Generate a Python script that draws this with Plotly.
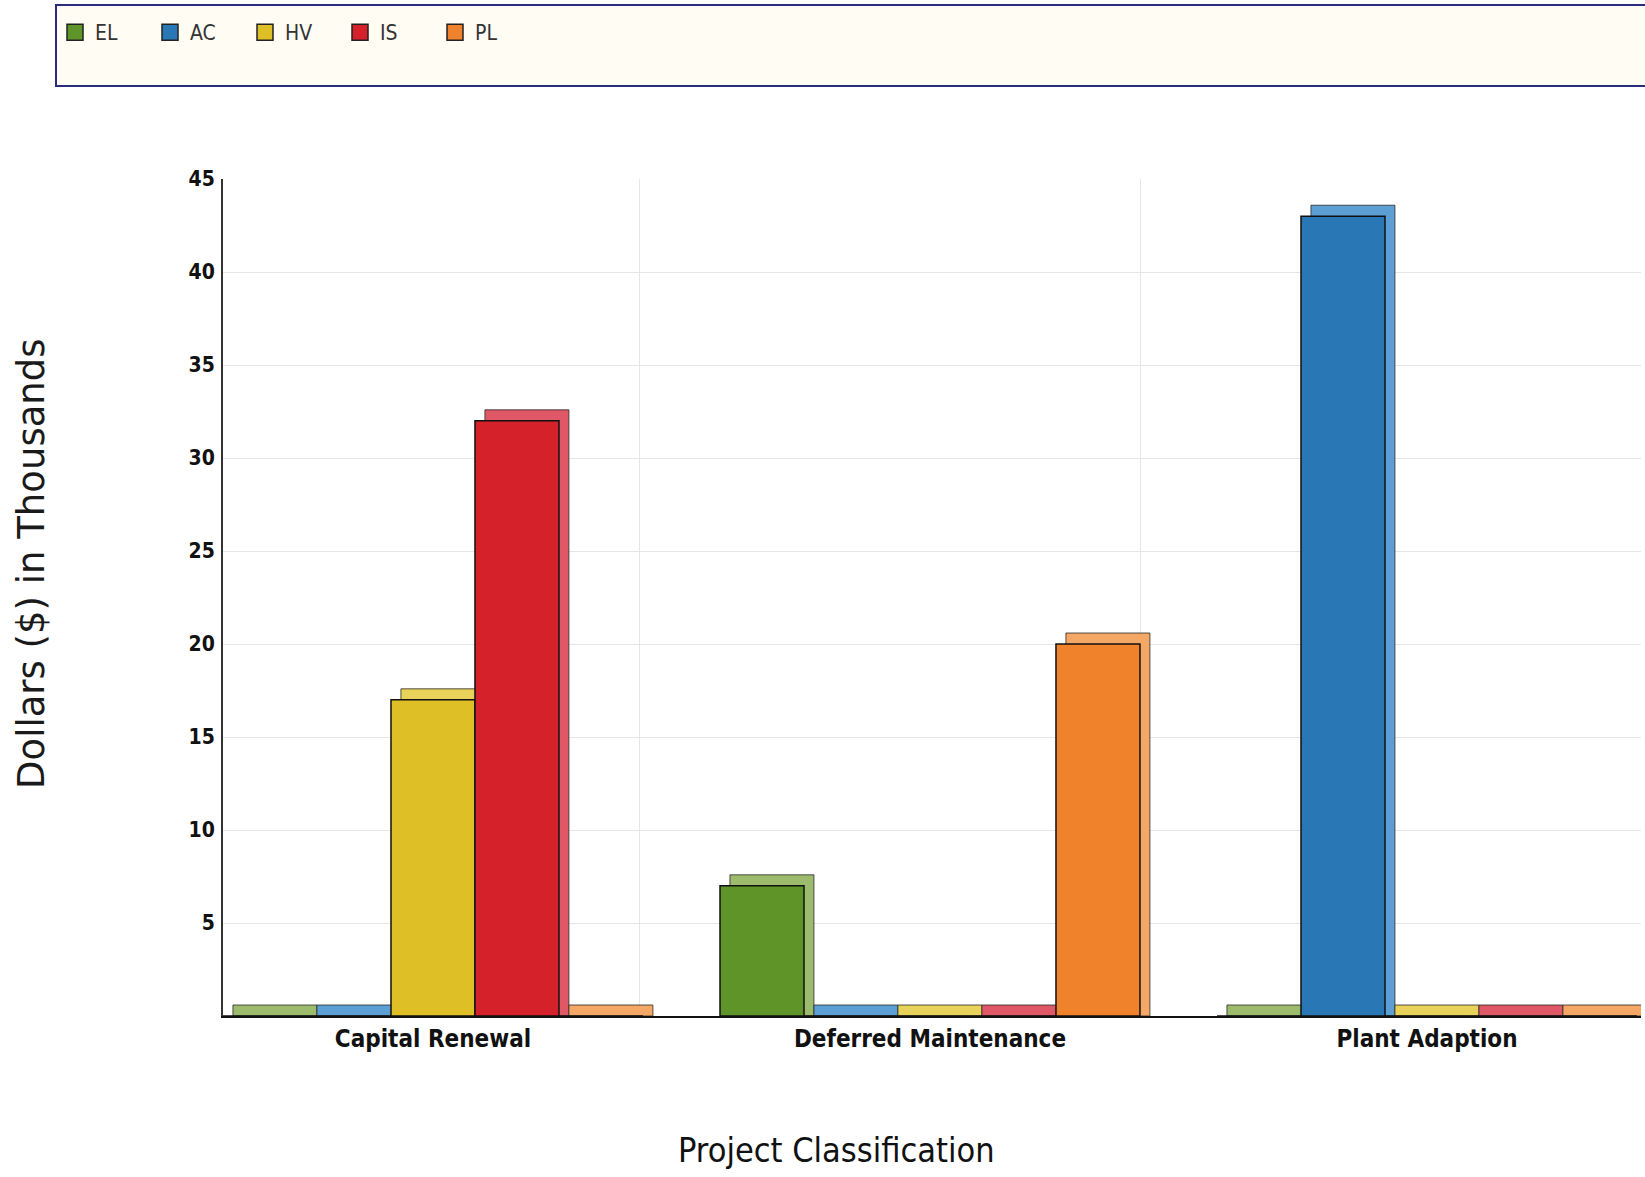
import plotly.graph_objects as go

# ---- data ----
categories = ["Capital Renewal", "Deferred Maintenance", "Plant Adaption"]
series_names = ["EL", "AC", "HV", "IS", "PL"]
EL = [0, 7, 0]
AC = [0, 0, 43]
HV = [17, 0, 0]
IS = [32, 0, 0]
PL = [0, 20, 0]
series_values = [EL, AC, HV, IS, PL]
y_ticks = [5, 10, 15, 20, 25, 30, 35, 40, 45]

# ---- style ----
front_colors = ["#5f9429", "#2a77b5", "#dfbf26", "#d5222a", "#f0822b"]
side_colors = ["#9cbb6c", "#5c9fd4", "#e9d25a", "#e05866", "#f5a766"]
BAR_W = 0.169        # bar width (x units)
DEPTH_X = 0.020      # 3D depth offset to the right (x units)
DEPTH_Y = 0.59       # 3D depth offset upwards (y units)

x_pos = list(range(len(categories)))
n = len(series_names)

fig = go.Figure()

# depth (back) faces first
for i, (name, vals) in enumerate(zip(series_names, series_values)):
    fig.add_trace(go.Bar(
        x=x_pos, y=[v + DEPTH_Y for v in vals],
        width=BAR_W, offset=(i - n / 2) * BAR_W + DEPTH_X,
        marker=dict(color=side_colors[i], line=dict(color="rgba(40,40,40,0.8)", width=1)),
        showlegend=False, legendgroup=name, hoverinfo="skip", name=name,
    ))

# front faces
for i, (name, vals) in enumerate(zip(series_names, series_values)):
    fig.add_trace(go.Bar(
        x=x_pos, y=vals,
        width=BAR_W, offset=(i - n / 2) * BAR_W,
        marker=dict(color=front_colors[i], line=dict(color="#111111", width=1.5)),
        name=name, legendgroup=name, showlegend=False,
    ))

# legend entries with larger square swatches
for i, name in enumerate(series_names):
    fig.add_trace(go.Scatter(
        x=[None], y=[None], mode="markers", name=name, legendgroup=name,
        marker=dict(symbol="square", size=17, color=front_colors[i],
                    line=dict(color="#222222", width=1.5)),
        showlegend=True,
    ))

W, H = 1645, 1177
L, R, T, B = 223, 4, 179, 161
PW, PH = W - L - R, H - T - B

fig.update_layout(
    width=W, height=H,
    margin=dict(l=L, r=R, t=T, b=B, pad=0),
    barmode="overlay",
    plot_bgcolor="white", paper_bgcolor="white",
    showlegend=True,
    legend=dict(
        orientation="h", xref="container", yref="container",
        x=55 / W, y=1 - 12 / H, xanchor="left", yanchor="top",
        bgcolor="rgba(0,0,0,0)", borderwidth=0,
        entrywidth=50, entrywidthmode="pixels", itemwidth=30,
        font=dict(family="DejaVu Sans Condensed, sans-serif", size=21, color="#333333"),
        traceorder="normal",
    ),
    xaxis=dict(
        range=[-0.4225, 2.4306],
        tickmode="array", tickvals=x_pos, ticktext=categories,
        tickfont=dict(family="DejaVu Sans Condensed, sans-serif", size=24, weight="bold", color="#111111"),
        showgrid=False, zeroline=False,
        showline=True, linecolor="#111111", linewidth=2,
        ticks="", ticklabelstandoff=0,
        minor=dict(tickmode="array", tickvals=[0.4165, 1.4245], showgrid=True, gridcolor="#e6e6e6", gridwidth=1, ticks=""),
        automargin=False,
    ),
    yaxis=dict(
        range=[0, 45],
        tickmode="array", tickvals=y_ticks,
        tickfont=dict(family="DejaVu Sans Condensed, sans-serif", size=21, weight="bold", color="#111111"),
        showgrid=True, gridcolor="#e6e6e6", gridwidth=1,
        zeroline=False,
        showline=True, linecolor="#333333", linewidth=2,
        ticks="", ticklabelstandoff=2,
        automargin=False,
    ),
    annotations=[
        dict(text="Project Classification", xref="paper", yref="paper",
             x=(836 - L) / PW, y=(H - B - 1150) / PH, xanchor="center", yanchor="middle",
             showarrow=False,
             font=dict(family="DejaVu Sans Condensed, sans-serif", size=34, color="#111111")),
        dict(text="Dollars ($) in Thousands", xref="paper", yref="paper",
             x=(31 - L) / PW, y=(H - B - 563) / PH, xanchor="center", yanchor="middle",
             textangle=-90, showarrow=False,
             font=dict(family="DejaVu Sans, sans-serif", size=37, color="#1a1a1a")),
    ],
    shapes=[
        dict(type="rect", xref="paper", yref="paper",
             x0=(56 - L) / PW, x1=1.05,
             y0=(H - B - 86) / PH, y1=(H - B - 5) / PH,
             fillcolor="#fffcf3", line=dict(color="#2b2b7c", width=2), layer="below"),
    ],
)

fig.write_html("out.html")
